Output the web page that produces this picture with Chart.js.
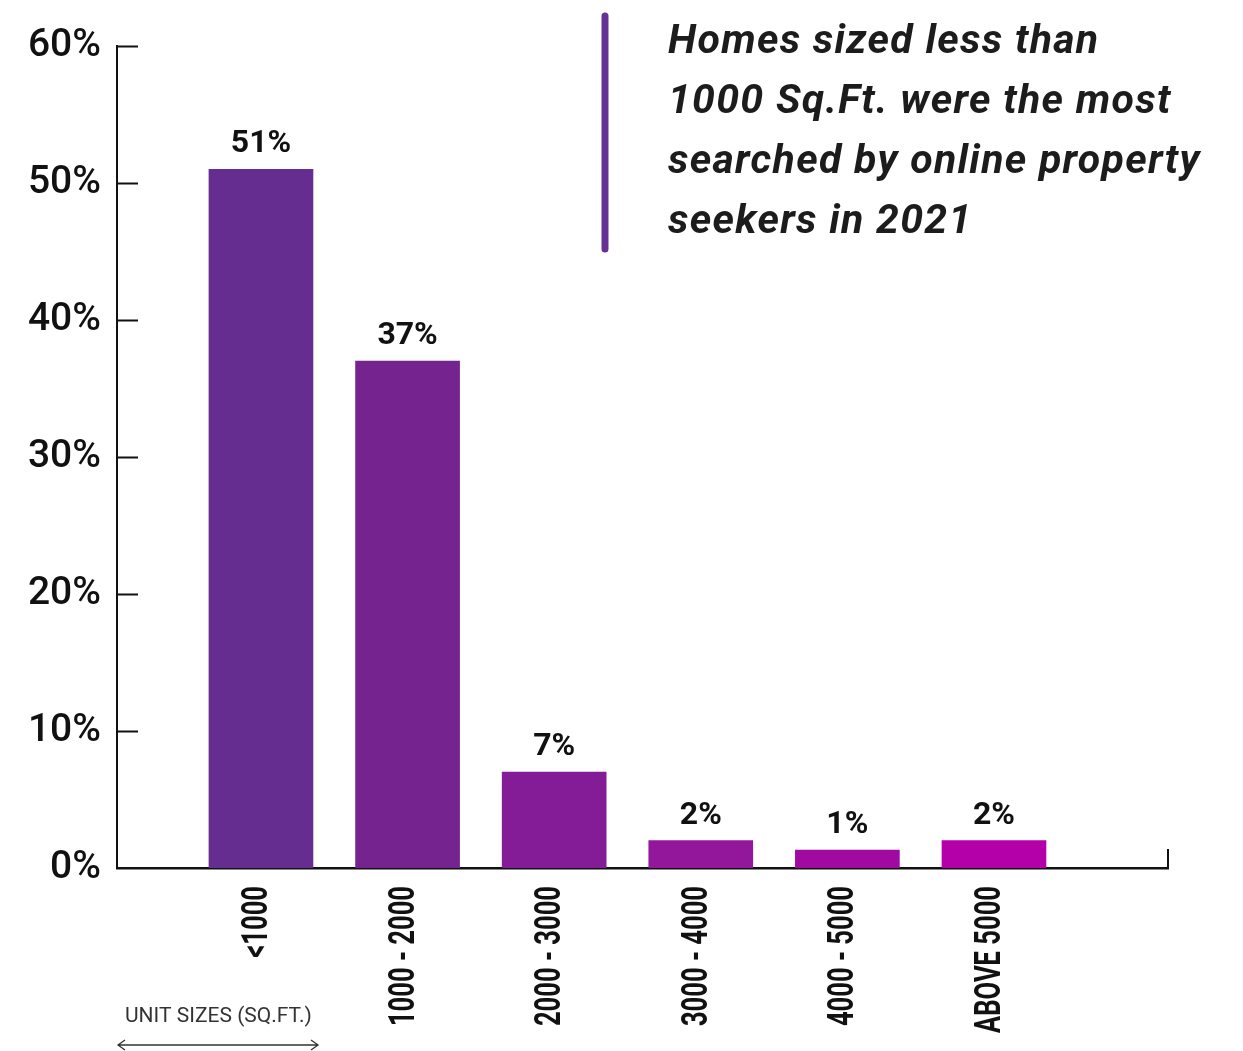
<!DOCTYPE html>
<html>
<head>
<meta charset="utf-8">
<title>Unit sizes searched</title>
<script src="https://cdn.jsdelivr.net/npm/chart.js@4"></script>
<style>
  html, body { margin: 0; padding: 0; background: #fff; }
  #wrap { width: 1243px; height: 1051px; position: relative; }
</style>
</head>
<body>
<div id="wrap"><canvas id="chartSizes"></canvas></div>
<script>
// share of searches per unit size band
const sizes = ['<1000', '1000 - 2000', '2000 - 3000', '3000 - 4000', '4000 - 5000', 'ABOVE 5000'];
const shares = [51, 37, 7, 2, 1.3, 2];
const shareLabels = ['51%', '37%', '7%', '2%', '1%', '2%'];
const yTicks = [0, 10, 20, 30, 40, 50, 60];
const barColors = ['#652d8f', '#74238f', '#841b97', '#92179b', '#a10aa0', '#b300a8'];
const headline = [
  'Homes sized less than',
  '1000 Sq.Ft. were the most',
  'searched by online property',
  'seekers in 2021'
];

// extra drawing on top of the chart: inward ticks, narrow x labels, value labels, headline, axis note
const extras = {
  id: 'extras',
  afterDraw(chart) {
    const ctx = chart.ctx;
    const area = chart.chartArea;
    const x = chart.scales.x;
    const y = chart.scales.y;
    ctx.save();

    // inward y ticks
    ctx.strokeStyle = '#111';
    ctx.lineWidth = 2;
    yTicks.forEach(v => {
      if (v === 0) return;
      const py = Math.round(y.getPixelForValue(v)) + 0.5;
      ctx.beginPath();
      ctx.moveTo(area.left, py);
      ctx.lineTo(area.left + 21, py);
      ctx.stroke();
    });
    // end tick of the x axis
    ctx.beginPath();
    ctx.moveTo(area.right, area.bottom);
    ctx.lineTo(area.right, area.bottom - 19);
    ctx.stroke();

    // category labels, rotated and squeezed
    ctx.fillStyle = '#111';
    ctx.font = 'bold 36px Roboto';
    ctx.textAlign = 'right';
    ctx.textBaseline = 'middle';
    sizes.forEach((s, i) => {
      ctx.save();
      ctx.translate(x.getPixelForValue(i + 1) - 3, area.bottom + 18);
      ctx.rotate(-Math.PI / 2);
      ctx.scale(0.71, 1);
      ctx.fillText(s, 0, 0);
      ctx.restore();
    });

    // value labels above bars
    ctx.font = 'bold 32px Roboto';
    ctx.textAlign = 'center';
    ctx.textBaseline = 'alphabetic';
    chart.getDatasetMeta(0).data.forEach((bar, i) => {
      ctx.fillText(shareLabels[i], bar.x, bar.y - 17);
    });

    // headline with purple rule
    ctx.strokeStyle = '#673095';
    ctx.lineWidth = 7;
    ctx.lineCap = 'round';
    ctx.beginPath();
    ctx.moveTo(605, 16);
    ctx.lineTo(605, 249);
    ctx.stroke();

    ctx.fillStyle = '#1c1c1c';
    ctx.font = 'italic bold 41px Roboto';
    ctx.letterSpacing = '1.3px';
    ctx.textAlign = 'left';
    headline.forEach((line, i) => {
      ctx.fillText(line, 668, 53 + i * 60);
    });
    ctx.letterSpacing = '0px';

    // axis note with double arrow
    ctx.fillStyle = '#333';
    ctx.font = '21px Roboto';
    ctx.fillText('UNIT SIZES (SQ.FT.)', 125, 1022);
    ctx.strokeStyle = '#333';
    ctx.lineWidth = 1.3;
    ctx.lineCap = 'butt';
    ctx.beginPath();
    ctx.moveTo(118, 1045);
    ctx.lineTo(318, 1045);
    ctx.moveTo(125, 1040);
    ctx.lineTo(118, 1045);
    ctx.lineTo(125, 1050);
    ctx.moveTo(311, 1040);
    ctx.lineTo(318, 1045);
    ctx.lineTo(311, 1050);
    ctx.stroke();

    ctx.restore();
  }
};

const chart = new Chart(document.querySelector('#chartSizes').getContext('2d'), {
  type: 'bar',
  data: {
    datasets: [{
      data: shares.map((v, i) => ({ x: i + 1, y: v })),
      backgroundColor: barColors,
      barThickness: 104
    }]
  },
  options: {
    responsive: true,
    maintainAspectRatio: false,
    animation: false,
    layout: { padding: { top: 46, right: 75, left: 0, bottom: 0 } },
    plugins: {
      legend: { display: false },
      tooltip: { enabled: false }
    },
    scales: {
      x: {
        type: 'linear',
        offset: false,
        min: 0.018,
        max: 7.187,
        grid: { display: false, drawTicks: false },
        border: { color: '#111', width: 2.5 },
        afterFit: scale => { scale.height = 183; },
        ticks: { display: false }
      },
      y: {
        min: 0,
        max: 60,
        grid: { display: false, drawTicks: false },
        border: { color: '#111', width: 2 },
        afterBuildTicks: scale => {
          scale.ticks = yTicks.map(v => ({ value: v }));
        },
        afterFit: scale => { scale.width = 117; },
        ticks: {
          padding: 16,
          color: '#111',
          font: { family: 'Roboto', size: 39, weight: '500' },
          callback: v => v + '%'
        }
      }
    }
  },
  plugins: [extras]
});
</script>
</body>
</html>
